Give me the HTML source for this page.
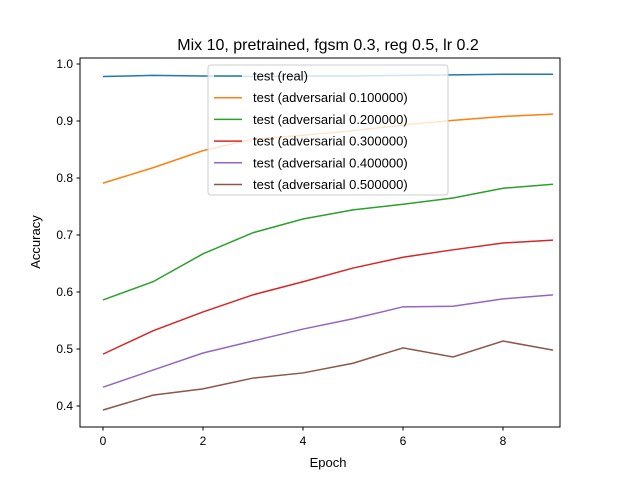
<!DOCTYPE html>
<html><head><meta charset="utf-8"><style>
body{margin:0;background:#fff}
svg{display:block;font-family:"Liberation Sans","DejaVu Sans",sans-serif}
</style></head><body>
<svg id="chart" width="640" height="480" xmlns="http://www.w3.org/2000/svg">
<rect width="640" height="480" fill="#fff"/>
<text x="328" y="50" font-size="16" text-anchor="middle">Mix 10, pretrained, fgsm 0.3, reg 0.5, lr 0.2</text>
<g id="series"></g>
<rect x="80" y="58" width="480" height="369" fill="none" stroke="#000" stroke-width="1"/>
<g id="xt"></g><g id="yt"></g>
<text x="328" y="467" font-size="13" text-anchor="middle">Epoch</text>
<text transform="translate(40,242) rotate(-90)" font-size="13" text-anchor="middle">Accuracy</text>
<g id="legend"></g>
</svg>
<script>
const epochs=[0,1,2,3,4,5,6,7,8,9];
const seriesNames=["test (real)","test (adversarial 0.100000)","test (adversarial 0.200000)","test (adversarial 0.300000)","test (adversarial 0.400000)","test (adversarial 0.500000)"];
const real=[0.978,0.980,0.979,0.978,0.979,0.979,0.980,0.981,0.982,0.982];
const adv01=[0.791,0.818,0.848,0.868,0.875,0.883,0.893,0.901,0.908,0.912];
const adv02=[0.586,0.618,0.667,0.704,0.728,0.744,0.754,0.765,0.782,0.789];
const adv03=[0.491,0.532,0.565,0.595,0.618,0.642,0.661,0.674,0.686,0.691];
const adv04=[0.433,0.463,0.493,0.514,0.535,0.553,0.574,0.575,0.588,0.595];
const adv05=[0.393,0.419,0.430,0.449,0.458,0.475,0.502,0.486,0.514,0.498];
const xTicks=[0,2,4,6,8];
const yTicks=[0.4,0.5,0.6,0.7,0.8,0.9,1.0];
const colors=["#1f77b4","#ff7f0e","#2ca02c","#d62728","#9467bd","#8c564b"];
const allSeries=[real,adv01,adv02,adv03,adv04,adv05];
const NS="http://www.w3.org/2000/svg";
const xs=v=>103+(v-0)*50;
const ys=v=>406-(v-0.4)*570;
function mk(t,a){const e=document.createElementNS(NS,t);for(const k in a)e.setAttribute(k,a[k]);return e;}
const sg=document.getElementById('series');
allSeries.forEach((s,i)=>{
  const p=mk('polyline',{points:s.map((v,j)=>xs(epochs[j])+','+ys(v)).join(' '),fill:'none',stroke:colors[i],'stroke-width':1.5});
  
  
  sg.appendChild(p);
});
const xt=document.getElementById('xt');
xTicks.forEach(t=>{
  const l=mk('line',{x1:xs(t),x2:xs(t),y1:427,y2:430.5,stroke:'#000'});
  
  
  xt.appendChild(l);
  const tx=mk('text',{x:xs(t),y:445,'font-size':12,'text-anchor':'middle'});tx.textContent=t;
  
  
  xt.appendChild(tx);
});
const yt=document.getElementById('yt');
yTicks.forEach(t=>{
  const l=mk('line',{x1:76.5,x2:80,y1:ys(t),y2:ys(t),stroke:'#000'});
  
  
  yt.appendChild(l);
  const tx=mk('text',{x:73,y:ys(t)+4,'font-size':12,'text-anchor':'end'});tx.textContent=t.toFixed(1);
  
  
  yt.appendChild(tx);
});
const lg=document.getElementById('legend');
const box=mk('rect',{x:208,y:65,width:240,height:130,rx:3,fill:'#fff','fill-opacity':0.8,stroke:'#ccc'});


lg.appendChild(box);
seriesNames.forEach((n,i)=>{
  const y=76+i*21.7;
  const l=mk('line',{x1:214,x2:242,y1:y,y2:y,stroke:colors[i],'stroke-width':1.5});
  
  
  lg.appendChild(l);
  const tx=mk('text',{x:253,y:y+4.5,'font-size':13});tx.textContent=n;
  
  
  lg.appendChild(tx);
});
</script>
</body></html>
